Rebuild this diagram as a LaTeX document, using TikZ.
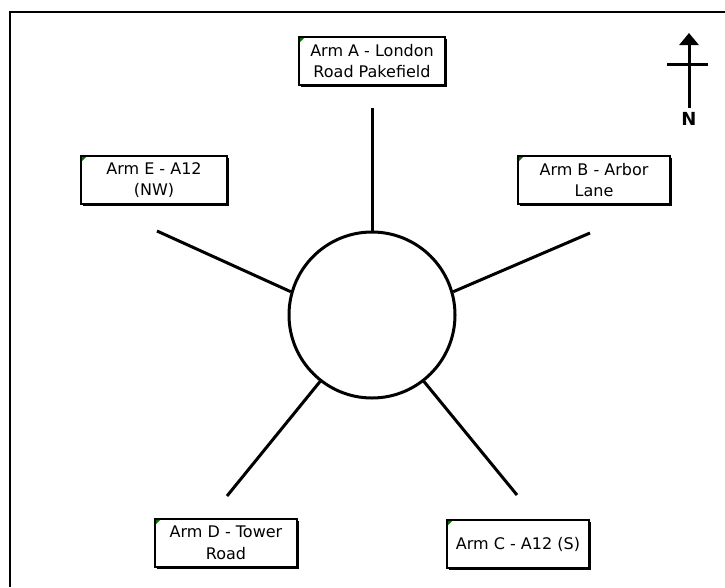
\documentclass[tikz,border=0pt]{standalone}
\usepackage{fontspec}
\setmainfont{DejaVu Sans}
\usepackage{tikz}
\usetikzlibrary{arrows.meta}
\usetikzlibrary{shadows}
\usetikzlibrary{positioning}
\tikzset{armbox/.style={draw, line width=2.2pt, fill=white, align=center, minimum width=146pt, minimum height=48pt, inner sep=2pt, font=\fontsize{16}{21.5}\selectfont, drop shadow={shadow xshift=2pt,shadow yshift=-2pt,fill=black,opacity=1}, path picture={\fill[green!45!black] (path picture bounding box.north west) -- ++(6pt,0pt) -- ++(-6pt,-6pt) -- cycle;}}}
\tikzset{arm/.style={line width=3pt}}
\tikzset{rbt/.style={draw, circle, line width=3pt, minimum size=166pt, inner sep=0pt}}

\begin{document}
\begin{tikzpicture}[x=1pt,y=-1pt]
\useasboundingbox (0,0) rectangle (725,587);
\draw[line width=2pt] (725,12) -- (10,12) -- (10,587);

% roundabout and arms
\node[rbt] (rb) at (372,315) {};
\node[armbox] (armA) at (372,61) {Arm A - London\\Road Pakefield};
\node[armbox, minimum width=152pt] (armB) at (594,180) {Arm B - Arbor\\Lane};
\node[armbox] (armE) at (154,180) {Arm E - A12\\(NW)};
\node[armbox, minimum width=142pt] (armD) at (226,543) {Arm D - Tower\\Road};
\node[armbox, minimum width=142pt] (armC) at (518,544) {Arm C - A12 (S)};

\coordinate (endA) at (372,108);
\coordinate (endB) at (590,233);
\coordinate (endE) at (157,231);
\coordinate (endD) at (227,496);
\coordinate (endC) at (517,495);
\draw[arm] (endA) -- (rb.90);
\draw[arm] (endB) -- (rb.16);
\draw[arm] (endE) -- (rb.164);
\draw[arm] (endD) -- (rb.232);
\draw[arm] (endC) -- (rb.308);

% north arrow
\coordinate (ntail) at (689,108);
\coordinate (nhead) at (689,33);
\draw[line width=3pt, -{Triangle[width=19pt,length=12pt]}] (ntail) -- (nhead);
\coordinate (nwest) at (667,64);
\coordinate (neast) at (708,64);
\draw[line width=3pt] (nwest) -- (neast);
\node[font=\bfseries\fontsize{18}{18}\selectfont, below=1pt of ntail] (nlabel) {N};
\end{tikzpicture}
\end{document}
